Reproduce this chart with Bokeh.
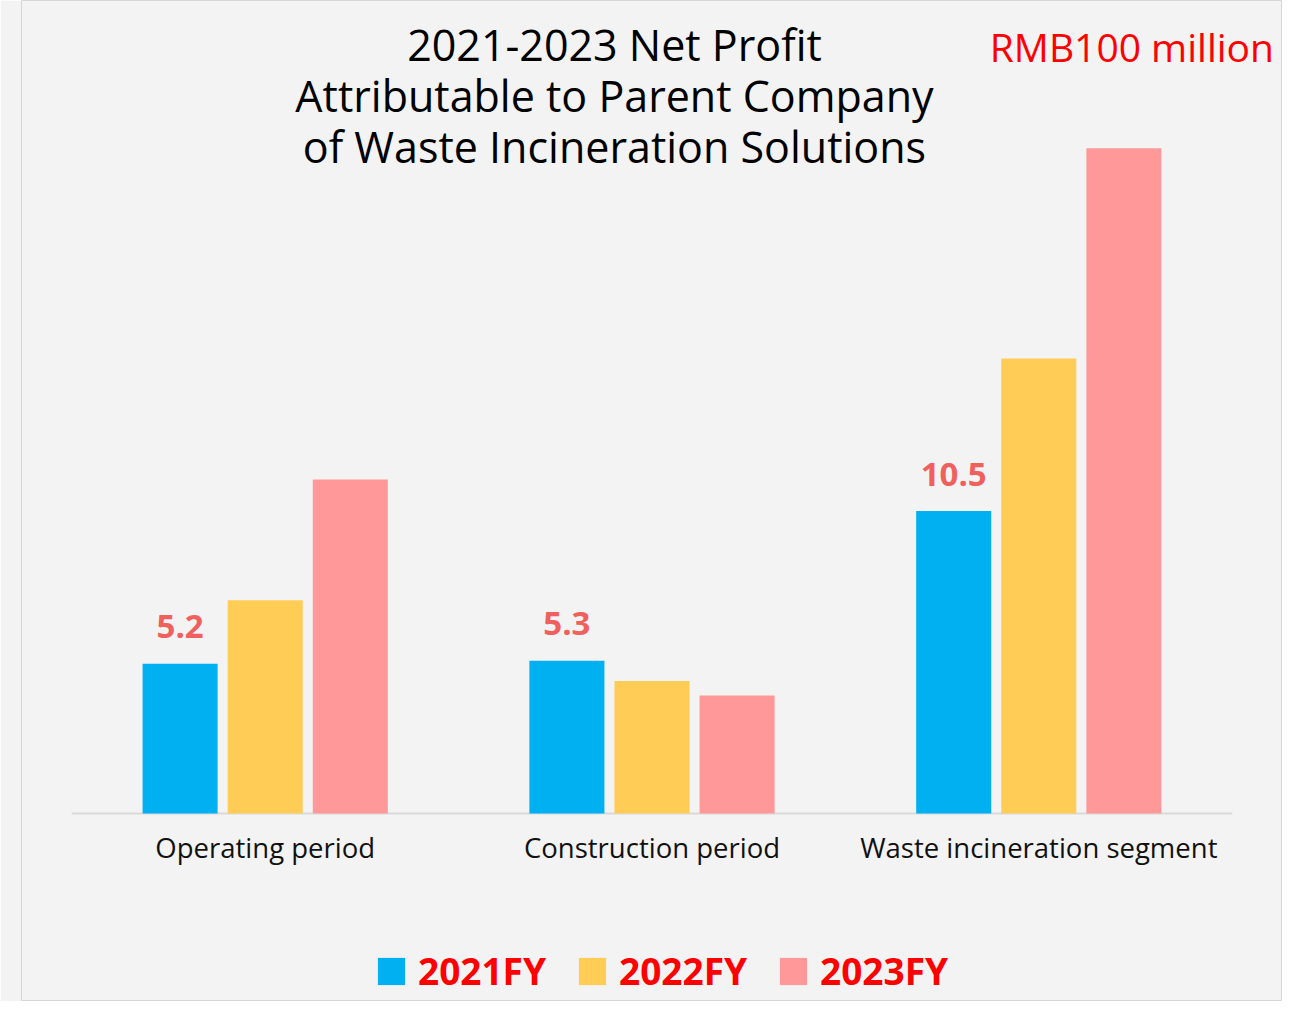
from bokeh.plotting import figure
from bokeh.models import ColumnDataSource, FactorRange, Range1d, Label, Legend, LegendItem
from bokeh.transform import dodge
from bokeh.core.properties import value
from bokeh.embed import file_html
from bokeh.resources import INLINE

categories = ["Operating period", "Construction period", "Waste incineration segment"]
years = ["2021FY", "2022FY", "2023FY"]
fy2021 = [5.2, 5.3, 10.5]
fy2022 = [7.4, 4.6, 15.8]
fy2023 = [11.6, 4.1, 23.1]
bar_labels = ["5.2", "5.3", "10.5"]
colors = ["#00b0f0", "#ffcc55", "#ff9999"]

FONT = "Open Sans"

src = ColumnDataSource(dict(cat=categories, y1=fy2021, y2=fy2022, y3=fy2023, lab=bar_labels))

p = figure(width=1282, height=1001, output_backend="svg", toolbar_location=None,
           x_range=FactorRange(*categories, range_padding=0.13, range_padding_units="absolute"),
           y_range=Range1d(-6.53, 28.23),
           x_axis_location=None, y_axis_location=None,
           min_border=0, min_border_left=21)
p.background_fill_color = "#f3f3f3"
p.border_fill_color = "#f3f3f3"
p.outline_line_color = "#d6d6d6"
p.grid.visible = False

# baseline
p.segment(x0=[0], x1=[3], y0=[0], y1=[0], line_color="#d9d9d9", line_width=2)

renderers = []
for col, off, c in zip(["y1", "y2", "y3"], [-0.22, 0.0, 0.22], colors):
    r = p.vbar(x=dodge("cat", off, range=p.x_range), top=col, width=0.194, bottom=0,
               source=src, fill_color=c, line_color=None)
    renderers.append(r)

# value labels for 2021
p.text(x=dodge("cat", -0.22, range=p.x_range), y="y1", text="lab", source=src,
       text_align="center", text_baseline="middle", y_offset=-37,
       text_font=value(FONT), text_font_style="bold", text_font_size="33px",
       text_color="#f0605d")

# category labels
p.text(x="cat", y=-1.17, text="cat", source=src, text_align="center", text_baseline="middle",
       text_font=value(FONT), text_font_size="27.5px", text_color="#111111")

# title lines
title_lines = ["2021-2023 Net Profit", "Attributable to Parent Company", "of Waste Incineration Solutions"]
for t, yy in zip(title_lines, [26.70, 24.93, 23.16]):
    p.add_layout(Label(x=1.403, y=yy, text=t, text_align="center", text_baseline="middle",
                       text_font=FONT, text_font_size="43px", text_color="#000000"))

p.add_layout(Label(x=3.108, y=26.63, text="RMB100 million", text_align="right", text_baseline="middle",
                   text_font=FONT, text_font_size="39px", text_color="#ff0000"))

legend = Legend(items=[LegendItem(label=y, renderers=[r]) for y, r in zip(years, renderers)],
                orientation="horizontal", location=(353, 5),
                glyph_width=34, glyph_height=34, label_standoff=10, spacing=29,
                padding=0, margin=0, background_fill_alpha=0, border_line_alpha=0,
                label_text_font=FONT, label_text_font_style="bold", label_text_font_size="37px",
                label_text_color="#ff0000")
p.add_layout(legend)

open("out.html", "w").write(file_html(p, INLINE))
